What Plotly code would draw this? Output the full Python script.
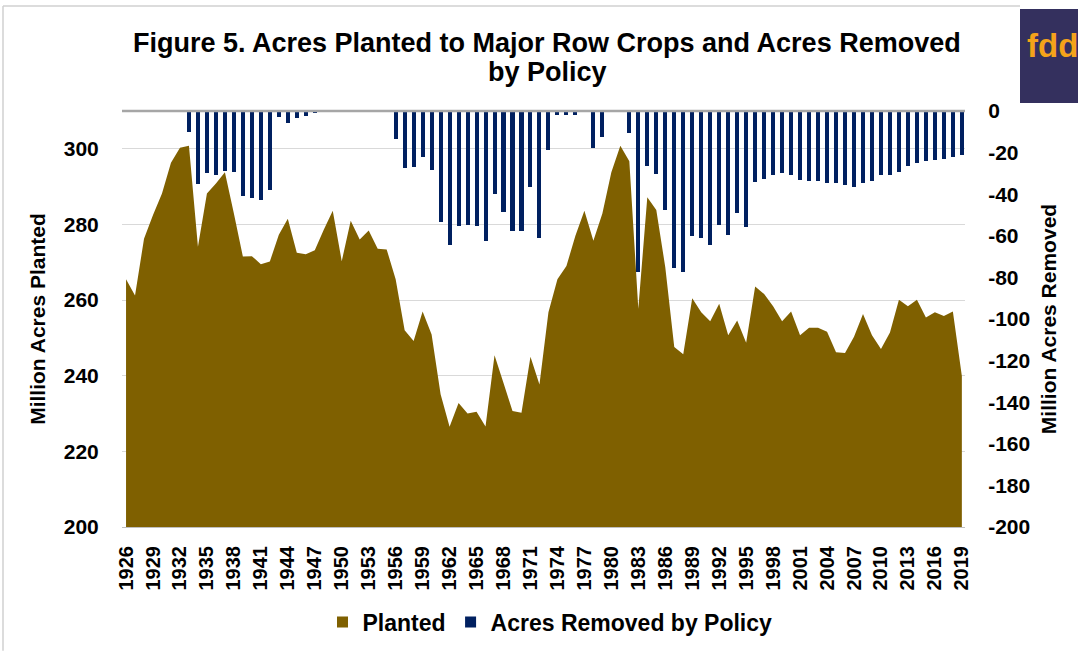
import plotly.graph_objects as go

years = list(range(1926, 2020))

planted = [265.5, 261.2, 276.2, 282.5, 288.2, 296.3, 300.3, 300.8, 274.1, 288.2,
           290.8, 293.8, 282.9, 271.5, 271.6, 269.5, 270.2, 277.3, 281.5, 272.5,
           272.1, 273.2, 278.6, 283.6, 270.3, 281.0, 276.0, 278.4, 273.6, 273.4,
           265.5, 252.0, 249.2, 257.0, 250.9, 235.1, 226.5, 232.8, 230.0, 230.5,
           226.6, 245.4, 238.1, 230.7, 230.2, 245.0, 237.7, 256.8, 265.5, 269.0,
           277.0, 283.6, 275.7, 282.9, 293.8, 300.8, 296.7, 257.7, 287.2, 283.8,
           268.7, 247.6, 245.7, 260.5, 256.8, 254.4, 259.0, 250.7, 254.6, 248.7,
           263.6, 261.6, 258.4, 254.4, 257.0, 250.7, 252.7, 252.7, 251.6, 246.2,
           246.0, 250.3, 256.3, 250.7, 247.1, 251.4, 260.1, 258.4, 260.1, 255.4,
           256.8, 255.8, 257.0, 239.9]

removed = [0, 0, 0, 0, 0, 0, 0, -10.2, -35.2, -30.0,
           -31.0, -28.9, -29.4, -41.1, -41.9, -42.7, -37.9, -2.7, -5.9, -3.5,
           -2.2, -0.8, 0, 0, 0, 0, 0, 0, 0, 0,
           -13.3, -27.3, -27.0, -22.1, -28.3, -53.5, -64.3, -55.4, -54.6, -55.4,
           -62.5, -39.7, -48.4, -57.5, -57.8, -36.5, -61.1, -18.9, -2.1, -1.7,
           -1.7, 0, -17.8, -12.4, 0, 0, -10.6, -77.3, -26.5, -30.5,
           -47.6, -75.7, -77.6, -60.3, -61.1, -64.3, -54.8, -59.5, -48.9, -56.0,
           -34.0, -32.9, -31.0, -29.7, -31.0, -33.2, -33.7, -33.7, -34.4, -34.4,
           -35.7, -36.3, -34.4, -33.7, -31.0, -31.0, -29.2, -26.5, -25.2, -24.0,
           -23.5, -23.0, -22.2, -21.3]

xtick_years = list(range(1926, 2020, 3))
left_ticks = [200, 220, 240, 260, 280, 300]
right_ticks = [0, -20, -40, -60, -80, -100, -120, -140, -160, -180, -200]

FONT = "Liberation Sans, Arial, sans-serif"
BROWN = "#7F6000"
NAVY = "#002060"

# plot area in pixels
PL, PR, PT, PB = 122, 965, 111, 531
PW, PH = PR - PL, PB - PT


def px(x):
    return (x - PL) / PW


def py(y):
    return (PB - y) / PH


fig = go.Figure()
fig.add_trace(go.Scatter(
    x=years, y=planted, name="Planted", mode="none",
    fill="tozeroy", fillcolor=BROWN, yaxis="y", showlegend=False,
))
fig.add_trace(go.Bar(
    x=years, y=removed, name="Acres Removed by Policy",
    marker=dict(color=NAVY, line=dict(width=0)), width=0.45, yaxis="y2",
    showlegend=False,
))
# legend entries (square swatches)
fig.add_trace(go.Scatter(x=[None], y=[None], mode="markers", name="<b>Planted</b>",
                         marker=dict(symbol="square", size=11, color=BROWN)))
fig.add_trace(go.Scatter(x=[None], y=[None], mode="markers",
                         name="<b>Acres Removed by Policy</b>",
                         marker=dict(symbol="square", size=11, color=NAVY)))

fig.update_layout(
    width=1078, height=656,
    margin=dict(l=PL, r=1078 - PR, t=PT, b=656 - PB),
    paper_bgcolor="white", plot_bgcolor="white",
    font=dict(family=FONT, color="black"),
    xaxis=dict(
        range=[1925.55, 2019.35], tickmode="array", tickvals=xtick_years,
        ticktext=[f"<b>{y}</b>" for y in xtick_years], tickangle=-90,
        tickfont=dict(size=20), showgrid=False, zeroline=False,
        showline=True, linecolor="#BFBFBF", linewidth=1,
        ticks="outside", ticklen=10, tickcolor="rgba(0,0,0,0)",
    ),
    yaxis=dict(
        range=[200, 310], tickmode="array", tickvals=left_ticks,
        ticktext=[f"<b>{v}</b>" for v in left_ticks],
        tickfont=dict(size=21), showgrid=True, gridcolor="#D9D9D9", gridwidth=1,
        zeroline=False, showline=False,
        ticks="outside", ticklen=18, tickcolor="rgba(0,0,0,0)",
        title=dict(text="<b>Million Acres Planted</b>", font=dict(size=21), standoff=12),
        automargin=False,
    ),
    yaxis2=dict(
        range=[-200, 0], overlaying="y", side="right", tickmode="array",
        tickvals=right_ticks, ticktext=[f"<b>{v}</b>" for v in right_ticks],
        tickfont=dict(size=21), showgrid=False, zeroline=False, showline=False,
        ticks="outside", ticklen=18, tickcolor="rgba(0,0,0,0)",
        title=dict(text="<b>Million Acres Removed</b>", font=dict(size=21), standoff=12),
        automargin=False,
    ),
    bargap=0,
    legend=dict(
        orientation="h", x=px(550), xanchor="center", xref="paper",
        y=py(627), yanchor="middle", font=dict(size=23),
        traceorder="normal", itemwidth=30,
    ),
    showlegend=True,
)

# title (two lines)
fig.add_annotation(text="<b>Figure 5. Acres Planted to Major Row Crops and Acres Removed</b>",
                   xref="paper", yref="paper", x=px(547), y=py(42), showarrow=False,
                   xanchor="center", yanchor="middle",
                   font=dict(size=27, family=FONT, color="black"))
fig.add_annotation(text="<b>by Policy</b>",
                   xref="paper", yref="paper", x=px(547), y=py(72), showarrow=False,
                   xanchor="center", yanchor="middle",
                   font=dict(size=27, family=FONT, color="black"))

# top axis line (zero of removed axis)
fig.add_shape(type="line", xref="paper", yref="paper", x0=0, x1=1, y0=1, y1=1,
              line=dict(color="#A6A6A6", width=2.5), layer="above")
# chart border (top and left)
fig.add_shape(type="line", xref="paper", yref="paper",
              x0=px(3), x1=px(1020), y0=py(5), y1=py(5),
              line=dict(color="#D0D0D0", width=1.5))
fig.add_shape(type="line", xref="paper", yref="paper",
              x0=px(3), x1=px(3), y0=py(5), y1=py(656),
              line=dict(color="#D0D0D0", width=1.5))
# logo
fig.add_shape(type="rect", xref="paper", yref="paper",
              x0=px(1020), x1=px(1080), y0=py(8), y1=py(103),
              fillcolor="#34305E", line=dict(width=0))
fig.add_annotation(text="<b>fdd</b>", xref="paper", yref="paper",
                   x=px(1025), y=py(45), showarrow=False,
                   xanchor="left", yanchor="middle",
                   font=dict(size=33, color="#F5A31A", family=FONT))

fig.write_html("out.html")
